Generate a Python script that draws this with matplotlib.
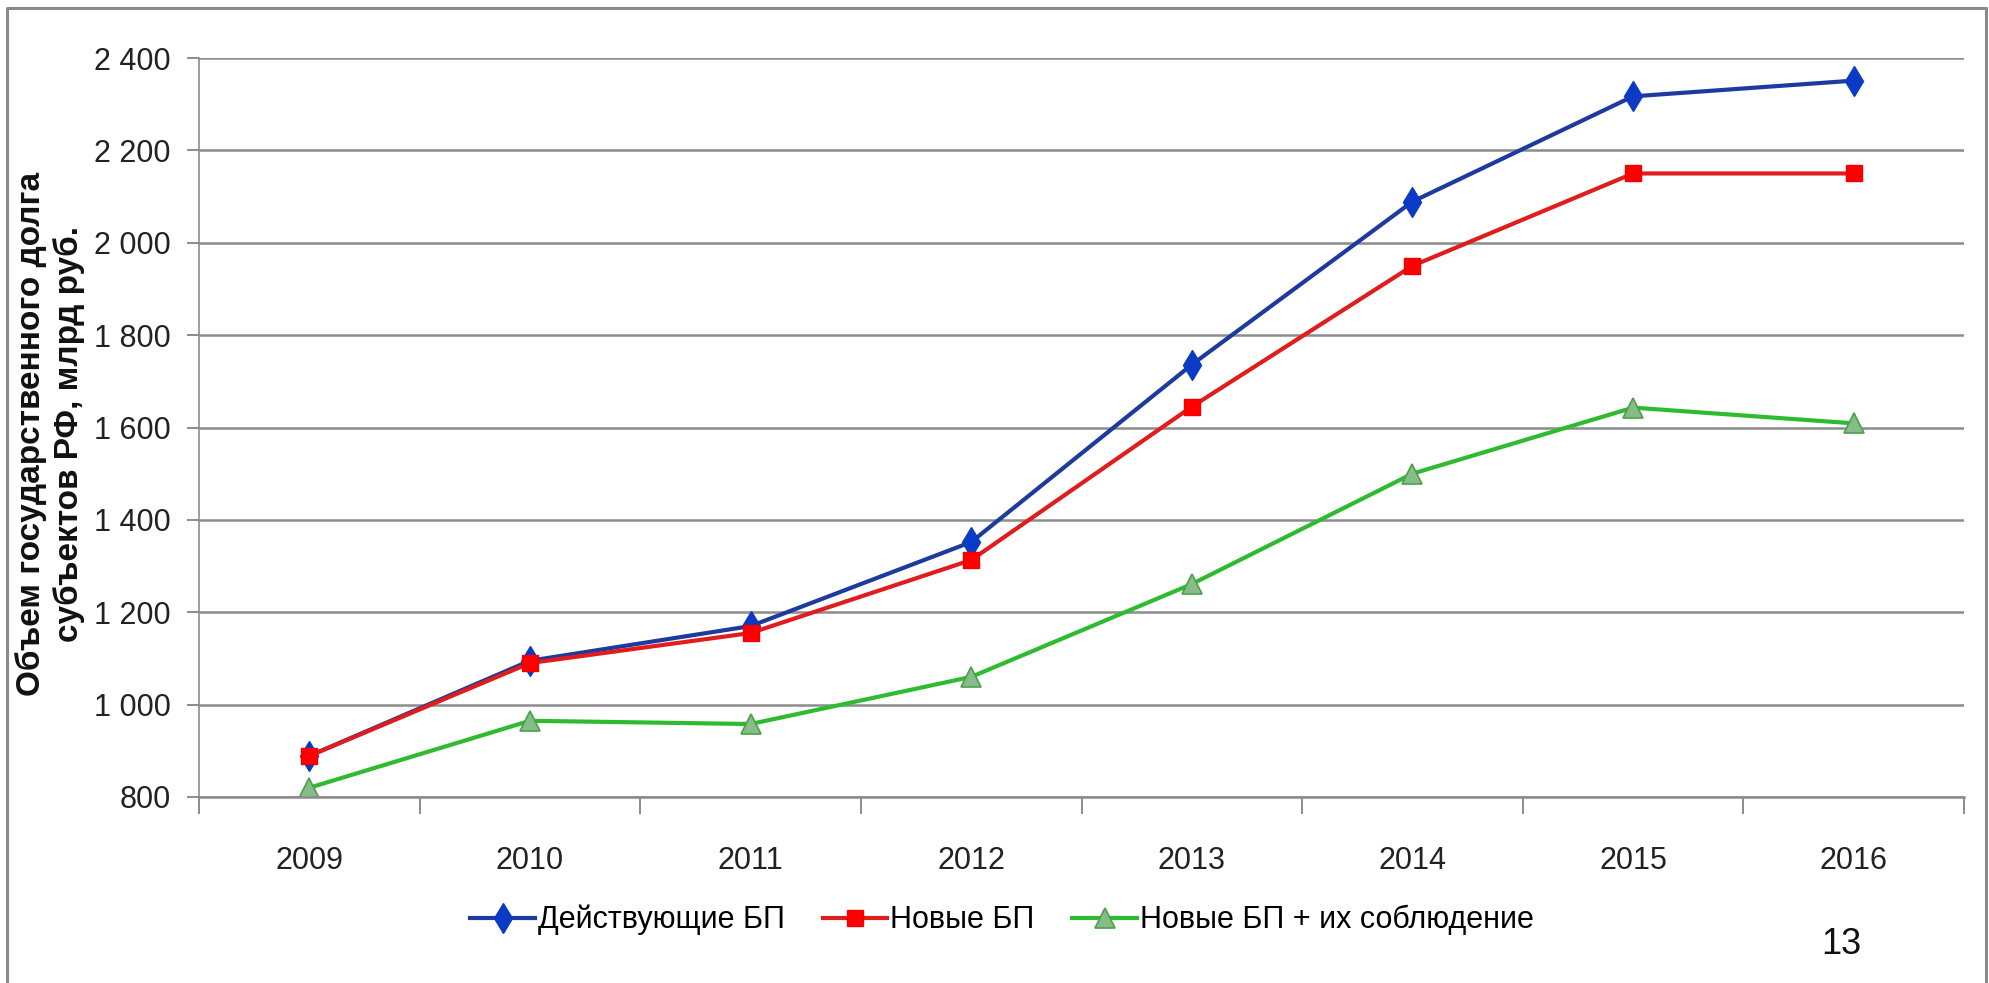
import matplotlib
matplotlib.use("Agg")
import matplotlib.pyplot as plt
from matplotlib.lines import Line2D

# ---- data ----
years = ["2009", "2010", "2011", "2012", "2013", "2014", "2015", "2016"]
current_bp = [889, 1095, 1170, 1352, 1736, 2089, 2317, 2351]
new_bp = [889, 1090, 1155, 1313, 1645, 1950, 2150, 2150]
new_bp_compliance = [820, 965, 958, 1060, 1261, 1500, 1643, 1609]
series_names = ["Действующие БП", "Новые БП", "Новые БП + их соблюдение"]
ytick_values = [800, 1000, 1200, 1400, 1600, 1800, 2000, 2200, 2400]
ytick_labels = ["800", "1 000", "1 200", "1 400", "1 600", "1 800", "2 000", "2 200", "2 400"]
ylabel_text = "Объем государственного долга\nсубъектов РФ, млрд руб."
page_number = "13"

W, H = 1989, 983
fig = plt.figure(figsize=(W / 100, H / 100), dpi=100)
fig.patch.set_facecolor("white")

narrow = ["Liberation Sans Narrow", "Liberation Sans", "DejaVu Sans"]
tick_color = "#222222"
grid_color = "#8c8c8c"

# axes placement (pixels -> figure fraction)
left, right, top, bottom = 199, 1964, 58, 797
ax = fig.add_axes([left / W, 1 - bottom / H, (right - left) / W, (bottom - top) / H])

x = list(range(len(years)))
ax.plot(x, current_bp, color="#1d3b9e", lw=3.0, marker="d", markersize=15,
        markerfacecolor="#0b3bc4", markeredgecolor="#0b3bc4", label=series_names[0])
ax.plot(x, new_bp, color="#e11c1c", lw=3.0, marker="s", markersize=12,
        markerfacecolor="#ff0000", markeredgecolor="#f00000", label=series_names[1])
ax.plot(x, new_bp_compliance, color="#2fbb2f", lw=3.0, marker="^", markersize=14,
        markerfacecolor="#86bd86", markeredgecolor="#4e9e4e", markeredgewidth=1.2,
        label=series_names[2])

ax.set_xlim(-0.5, len(years) - 0.5)
ax.set_ylim(ytick_values[0], ytick_values[-1])

# horizontal gridlines
ax.set_yticks(ytick_values)
ax.set_yticklabels(ytick_labels, fontfamily=narrow, fontsize=22, color=tick_color)
ax.yaxis.grid(True, color=grid_color, lw=1.8)
ax.set_axisbelow(True)
ax.tick_params(axis="y", length=8.6, width=1.4, color=grid_color, pad=12)

# category ticks at boundaries, labels at centers
ax.set_xticks([i - 0.5 for i in range(len(years) + 1)])
ax.set_xticklabels([])
ax.set_xticks(x, minor=True)
ax.set_xticklabels(years, minor=True, fontfamily=narrow, fontsize=22, color=tick_color)
ax.tick_params(axis="x", which="major", length=12, width=1.4, color=grid_color, direction="out")
ax.tick_params(axis="x", which="minor", length=0, pad=35)

for s in ["top", "right"]:
    ax.spines[s].set_visible(False)
ax.spines["left"].set_color(grid_color)
ax.spines["left"].set_linewidth(1.2)
ax.spines["bottom"].set_color(grid_color)
ax.spines["bottom"].set_linewidth(1.8)

# y label
fig.text(50 / W, 1 - 434 / H, ylabel_text, rotation=90, ha="center", va="center",
         multialignment="center", fontsize=24, fontweight="bold",
         fontfamily=["Liberation Sans", "DejaVu Sans"], color="#111111", linespacing=1.25)

# legend
handles, labels = ax.get_legend_handles_labels()
fig.legend(handles, labels, loc="center", bbox_to_anchor=(1002 / W, 1 - 920 / H),
           ncol=3, frameon=False, prop={"family": narrow, "size": 22},
           handlelength=2.1, handletextpad=0.1, columnspacing=1.25, borderpad=0)

# page number
fig.text(1841 / W, 1 - 945 / H, page_number, ha="center", va="center", fontsize=26,
         fontfamily=["Liberation Sans", "DejaVu Sans"], color="#111111")

# slide frame (left, top, right)
frame = Line2D([7 / W, 7 / W, 1986 / W, 1986 / W],
               [0, 1 - 8 / H, 1 - 8 / H, 0], transform=fig.transFigure,
               color="#8a8a8a", lw=2.2)
fig.add_artist(frame)

fig.savefig("out.png", dpi=100, facecolor="white")
